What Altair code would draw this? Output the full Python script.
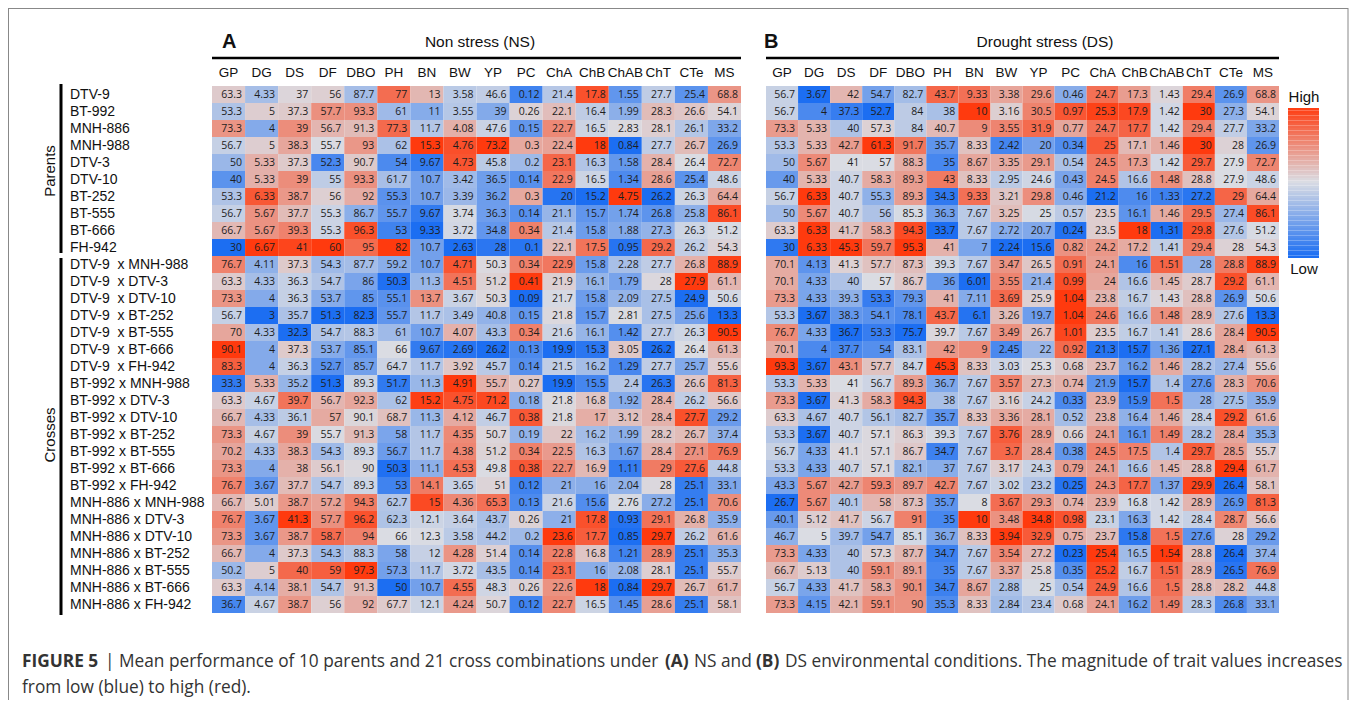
import altair as alt
import pandas as pd

TRAITS = ["GP", "DG", "DS", "DF", "DBO", "PH", "BN", "BW", "YP", "PC",
          "ChA", "ChB", "ChAB", "ChT", "CTe", "MS"]

PARENTS = ["DTV-9", "BT-992", "MNH-886", "MNH-988", "DTV-3", "DTV-10",
           "BT-252", "BT-555", "BT-666", "FH-942"]

CROSSES = ["DTV-9\u00a0 x MNH-988", "DTV-9\u00a0 x DTV-3", "DTV-9\u00a0 x DTV-10",
           "DTV-9\u00a0 x BT-252", "DTV-9\u00a0 x BT-555", "DTV-9\u00a0 x BT-666",
           "DTV-9\u00a0 x FH-942",
           "BT-992 x MNH-988", "BT-992 x DTV-3", "BT-992 x DTV-10", "BT-992 x BT-252",
           "BT-992 x BT-555", "BT-992 x BT-666", "BT-992 x FH-942",
           "MNH-886 x MNH-988", "MNH-886 x DTV-3", "MNH-886 x DTV-10",
           "MNH-886 x BT-252", "MNH-886 x BT-555", "MNH-886 x BT-666",
           "MNH-886 x FH-942"]

# Non stress (NS): one list per genotype, values in TRAITS order
NS_PARENTS = [
    [63.3, 4.33, 37, 56, 87.7, 77, 13, 3.58, 46.6, 0.12, 21.4, 17.8, 1.55, 27.7, 25.4, 68.8],
    [53.3, 5, 37.3, 57.7, 93.3, 61, 11, 3.55, 39, 0.26, 22.1, 16.4, 1.99, 28.3, 26.6, 54.1],
    [73.3, 4, 39, 56.7, 91.3, 77.3, 11.7, 4.08, 47.6, 0.15, 22.7, 16.5, 2.83, 28.1, 26.1, 33.2],
    [56.7, 5, 38.3, 55.7, 93, 62, 15.3, 4.76, 73.2, 0.3, 22.4, 18, 0.84, 27.7, 26.7, 26.9],
    [50, 5.33, 37.3, 52.3, 90.7, 54, 9.67, 4.73, 45.8, 0.2, 23.1, 16.3, 1.58, 28.4, 26.4, 72.7],
    [40, 5.33, 39, 55, 93.3, 61.7, 10.7, 3.42, 36.5, 0.14, 22.9, 16.5, 1.34, 28.6, 25.4, 48.6],
    [53.3, 6.33, 38.7, 56, 92, 55.3, 10.7, 3.39, 36.2, 0.3, 20, 15.2, 4.75, 26.2, 26.3, 64.4],
    [56.7, 5.67, 37.7, 55.3, 86.7, 55.7, 9.67, 3.74, 36.3, 0.14, 21.1, 15.7, 1.74, 26.8, 25.8, 86.1],
    [66.7, 5.67, 39.3, 55.3, 96.3, 53, 9.33, 3.72, 34.8, 0.34, 21.4, 15.8, 1.88, 27.3, 26.3, 51.2],
    [30, 6.67, 41, 60, 95, 82, 10.7, 2.63, 28, 0.1, 22.1, 17.5, 0.95, 29.2, 26.2, 54.3],
]
NS_CROSSES = [
    [76.7, 4.11, 37.3, 54.3, 87.7, 59.2, 10.7, 4.71, 50.3, 0.34, 22.9, 15.8, 2.28, 27.7, 26.8, 88.9],
    [63.3, 4.33, 36.3, 54.7, 86, 50.3, 11.3, 4.51, 51.2, 0.41, 21.9, 16.1, 1.79, 28, 27.9, 61.1],
    [73.3, 4, 36.3, 53.7, 85, 55.1, 13.7, 3.67, 50.3, 0.09, 21.7, 15.8, 2.09, 27.5, 24.9, 50.6],
    [56.7, 3, 35.7, 51.3, 82.3, 55.7, 11.7, 3.49, 40.8, 0.15, 21.8, 15.7, 2.81, 27.5, 25.6, 13.3],
    [70, 4.33, 32.3, 54.7, 88.3, 61, 10.7, 4.07, 43.3, 0.34, 21.6, 16.1, 1.42, 27.7, 26.3, 90.5],
    [90.1, 4, 37.3, 53.7, 85.1, 66, 9.67, 2.69, 26.2, 0.13, 19.9, 15.3, 3.05, 26.2, 26.4, 61.3],
    [83.3, 4, 36.3, 52.7, 85.7, 64.7, 11.7, 3.92, 45.7, 0.14, 21.5, 16.2, 1.29, 27.7, 25.7, 55.6],
    [33.3, 5.33, 35.2, 51.3, 89.3, 51.7, 11.3, 4.91, 55.7, 0.27, 19.9, 15.5, 2.4, 26.3, 26.6, 81.3],
    [63.3, 4.67, 39.7, 56.7, 92.3, 62, 15.2, 4.75, 71.2, 0.18, 21.8, 16.8, 1.92, 28.4, 26.2, 56.6],
    [66.7, 4.33, 36.1, 57, 90.1, 68.7, 11.3, 4.12, 46.7, 0.38, 21.8, 17, 3.12, 28.4, 27.7, 29.2],
    [73.3, 4.67, 39, 55.7, 91.3, 58, 11.7, 4.35, 50.7, 0.19, 22, 16.2, 1.99, 28.2, 26.7, 37.4],
    [70.2, 4.33, 38.3, 54.3, 89.3, 56.7, 11.7, 4.38, 51.2, 0.34, 22.5, 16.3, 1.67, 28.4, 27.1, 76.9],
    [73.3, 4, 38, 56.1, 90, 50.3, 11.1, 4.53, 49.8, 0.38, 22.7, 16.9, 1.11, 29, 27.6, 44.8],
    [76.7, 3.67, 37.7, 54.7, 89.3, 53, 14.1, 3.65, 51, 0.12, 21, 16, 2.04, 28, 25.1, 33.1],
    [66.7, 5.01, 38.7, 57.2, 94.3, 62.7, 15, 4.36, 65.3, 0.13, 21.6, 15.6, 2.76, 27.2, 25.1, 70.6],
    [76.7, 3.67, 41.3, 57.7, 96.2, 62.3, 12.1, 3.64, 43.7, 0.26, 21, 17.8, 0.93, 29.1, 26.8, 35.9],
    [73.3, 3.67, 38.7, 58.7, 94, 66, 12.3, 3.58, 44.2, 0.2, 23.6, 17.7, 0.85, 29.7, 26.2, 61.6],
    [66.7, 4, 37.3, 54.3, 88.3, 58, 12, 4.28, 51.4, 0.14, 22.8, 16.8, 1.21, 28.9, 25.1, 35.3],
    [50.2, 5, 40, 59, 97.3, 57.3, 11.7, 3.72, 43.5, 0.14, 23.1, 16, 2.08, 28.1, 25.1, 55.7],
    [63.3, 4.14, 38.1, 54.7, 91.3, 50, 10.7, 4.55, 48.3, 0.26, 22.6, 18, 0.84, 29.7, 26.7, 61.7],
    [36.7, 4.67, 38.7, 56, 92, 67.7, 12.1, 4.24, 50.7, 0.12, 22.7, 16.5, 1.45, 28.6, 25.1, 58.1],
]

# Drought stress (DS)
DS_PARENTS = [
    [56.7, 3.67, 42, 54.7, 82.7, 43.7, 9.33, 3.38, 29.6, 0.46, 24.7, 17.3, 1.43, 29.4, 26.9, 68.8],
    [56.7, 4, 37.3, 52.7, 84, 38, 10, 3.16, 30.5, 0.97, 25.3, 17.9, 1.42, 30, 27.3, 54.1],
    [73.3, 5.33, 40, 57.3, 84, 40.7, 9, 3.55, 31.9, 0.77, 24.7, 17.7, 1.42, 29.4, 27.7, 33.2],
    [53.3, 5.33, 42.7, 61.3, 91.7, 35.7, 8.33, 2.42, 20, 0.34, 25, 17.1, 1.46, 30, 28, 26.9],
    [50, 5.67, 41, 57, 88.3, 35, 8.67, 3.35, 29.1, 0.54, 24.5, 17.3, 1.42, 29.7, 27.9, 72.7],
    [40, 5.33, 40.7, 58.3, 89.3, 43, 8.33, 2.95, 24.6, 0.43, 24.5, 16.6, 1.48, 28.8, 27.9, 48.6],
    [56.7, 6.33, 40.7, 55.3, 89.3, 34.3, 9.33, 3.21, 29.8, 0.46, 21.2, 16, 1.33, 27.2, 29, 64.4],
    [50, 5.67, 40.7, 56, 85.3, 36.3, 7.67, 3.25, 25, 0.57, 23.5, 16.1, 1.46, 29.5, 27.4, 86.1],
    [63.3, 6.33, 41.7, 58.3, 94.3, 33.7, 7.67, 2.72, 20.7, 0.24, 23.5, 18, 1.31, 29.8, 27.6, 51.2],
    [30, 6.33, 45.3, 59.7, 95.3, 41, 7, 2.24, 15.6, 0.82, 24.2, 17.2, 1.41, 29.4, 28, 54.3],
]
DS_CROSSES = [
    [70.1, 4.13, 41.3, 57.7, 87.3, 39.3, 7.67, 3.47, 26.5, 0.91, 24.1, 16, 1.51, 28, 28.8, 88.9],
    [70.1, 4.33, 40, 57, 86.7, 36, 6.01, 3.55, 21.4, 0.99, 24, 16.6, 1.45, 28.7, 29.2, 61.1],
    [73.3, 4.33, 39.3, 53.3, 79.3, 41, 7.11, 3.69, 25.9, 1.04, 23.8, 16.7, 1.43, 28.8, 26.9, 50.6],
    [53.3, 3.67, 38.3, 54.1, 78.1, 43.7, 6.1, 3.26, 19.7, 1.04, 24.6, 16.6, 1.48, 28.9, 27.6, 13.3],
    [76.7, 4.33, 36.7, 53.3, 75.7, 39.7, 7.67, 3.49, 26.7, 1.01, 23.5, 16.7, 1.41, 28.6, 28.4, 90.5],
    [70.1, 4, 37.7, 54, 83.1, 42, 9, 2.45, 22, 0.92, 21.3, 15.7, 1.36, 27.1, 28.4, 61.3],
    [93.3, 3.67, 43.1, 57.7, 84.7, 45.3, 8.33, 3.03, 25.3, 0.68, 23.7, 16.2, 1.46, 28.2, 27.4, 55.6],
    [53.3, 5.33, 41, 56.7, 89.3, 36.7, 7.67, 3.57, 27.3, 0.74, 21.9, 15.7, 1.4, 27.6, 28.3, 70.6],
    [73.3, 3.67, 41.3, 58.3, 94.3, 38, 7.67, 3.16, 24.2, 0.33, 23.9, 15.9, 1.5, 28, 27.5, 35.9],
    [63.3, 4.67, 40.7, 56.1, 82.7, 35.7, 8.33, 3.36, 28.1, 0.52, 23.8, 16.4, 1.46, 28.4, 29.2, 61.6],
    [53.3, 3.67, 40.7, 57.1, 86.3, 39.3, 7.67, 3.76, 28.9, 0.66, 24.1, 16.1, 1.49, 28.2, 28.4, 35.3],
    [56.7, 4.33, 41.1, 57.1, 86.7, 34.7, 7.67, 3.7, 28.4, 0.38, 24.5, 17.5, 1.4, 29.7, 28.5, 55.7],
    [53.3, 4.33, 40.7, 57.1, 82.1, 37, 7.67, 3.17, 24.3, 0.79, 24.1, 16.6, 1.45, 28.8, 29.4, 61.7],
    [43.3, 5.67, 42.7, 59.3, 89.7, 42.7, 7.67, 3.02, 23.2, 0.25, 24.3, 17.7, 1.37, 29.9, 26.4, 58.1],
    [26.7, 5.67, 40.1, 58, 87.3, 35.7, 8, 3.67, 29.3, 0.74, 23.9, 16.8, 1.42, 28.9, 26.9, 81.3],
    [40.1, 5.12, 41.7, 56.7, 91, 35, 10, 3.48, 34.8, 0.98, 23.1, 16.3, 1.42, 28.4, 28.7, 56.6],
    [46.7, 5, 39.7, 54.7, 85.1, 36.7, 8.33, 3.94, 32.9, 0.75, 23.7, 15.8, 1.5, 27.6, 28, 29.2],
    [73.3, 4.33, 40, 57.3, 87.7, 34.7, 7.67, 3.54, 27.2, 0.23, 25.4, 16.5, 1.54, 28.8, 26.4, 37.4],
    [66.7, 5.13, 40, 59.1, 89.1, 35, 7.67, 3.37, 25.8, 0.35, 25.2, 16.7, 1.51, 28.9, 26.5, 76.9],
    [56.7, 4.33, 41.7, 58.3, 90.1, 34.7, 8.67, 2.88, 25, 0.54, 24.9, 16.6, 1.5, 28.8, 28.2, 44.8],
    [73.3, 4.15, 42.1, 59.1, 90, 35.3, 8.33, 2.84, 23.4, 0.68, 24.1, 16.2, 1.49, 28.3, 26.8, 33.1],
]

GENOS = PARENTS + CROSSES
LEGEND_STEPS = 60

# ---------------------------------------------------------------- tables
records = []
for panel, rows in (("NS", NS_PARENTS + NS_CROSSES), ("DS", DS_PARENTS + DS_CROSSES)):
    for g, row in zip(GENOS, rows):
        for t, v in zip(TRAITS, row):
            records.append({"panel": panel, "geno": g, "trait": t,
                            "value": v, "label": f"{v:g}"})
df = pd.DataFrame(records)
traits_df = pd.DataFrame({"trait": TRAITS})
genos_df = pd.DataFrame({"geno": GENOS})
legend_df = pd.DataFrame({"t": [i / LEGEND_STEPS for i in range(LEGEND_STEPS)],
                          "t2": [(i + 1) / LEGEND_STEPS for i in range(LEGEND_STEPS)]})
one = pd.DataFrame({"a": [0]})

# ---------------------------------------------------------------- styles
LOW, MID, HIGH = "#1C6EF2", "#DADCE3", "#FF3A0E"
CELL_FONT = "Open Sans"
HEAD_FONT = "Liberation Sans"
LABEL_FONT = "Liberation Sans"
CAP_FONT = "Open Sans"
CAP_SIZE = 17.3
CAP_COLOR = "#333"

color_scale = alt.Scale(domain=[0, 0.5, 1], range=[LOW, MID, HIGH], interpolate="rgb")
y_scale = alt.Scale(domain=GENOS, range=[78, 605], paddingInner=0, paddingOuter=0)
PANELS = {
    # panel: (x range of the cells, right-align offset of the values)
    "NS": ([204, 733], 13.5),
    "DS": ([758, 1271], 13.0),
}

layers = []

# ---------------------------------------------------------------- heatmaps
for panel, (xrange_, dx) in PANELS.items():
    xs = alt.Scale(domain=TRAITS, range=xrange_, paddingInner=0, paddingOuter=0)
    base = alt.Chart(df).transform_filter(alt.datum.panel == panel)
    cells = base.transform_joinaggregate(
        vmin="min(value)", vmax="max(value)", groupby=["trait"]
    ).transform_calculate(
        norm="(datum.value - datum.vmin) / (datum.vmax - datum.vmin)"
    ).mark_rect().encode(
        x=alt.X("trait:N", scale=xs, axis=None),
        y=alt.Y("geno:N", scale=y_scale, axis=None),
        color=alt.Color("norm:Q", scale=color_scale, legend=None),
    )
    texts = base.mark_text(align="right", baseline="middle", dx=dx, font=CELL_FONT,
                           fontSize=10.5, color="#1e1e1e").encode(
        x=alt.X("trait:N", scale=xs, axis=None),
        y=alt.Y("geno:N", scale=y_scale, axis=None),
        text="label:N",
    )
    heads = alt.Chart(traits_df).mark_text(baseline="middle", font=HEAD_FONT,
                                           fontSize=13.5, color="#111").encode(
        x=alt.X("trait:N", scale=xs, axis=None),
        y=alt.value(65),
        text="trait:N",
    )
    layers += [cells, texts, heads]

# ---------------------------------------------------------------- row labels
layers.append(alt.Chart(genos_df).mark_text(align="left", baseline="middle",
                                            font=LABEL_FONT, fontSize=14,
                                            color="#111").encode(
    x=alt.value(62),
    y=alt.Y("geno:N", scale=y_scale, axis=None),
    text="geno:N",
))

# ---------------------------------------------------------------- legend
layers.append(alt.Chart(legend_df).mark_rect().encode(
    x=alt.value(1280), x2=alt.value(1311),
    y=alt.Y("t:Q", scale=alt.Scale(domain=[0, 1], range=[250, 100]), axis=None),
    y2="t2:Q",
    color=alt.Color("t:Q", scale=color_scale, legend=None),
))


def label(text, x, y, size, font=LABEL_FONT, weight="normal", align="left",
          angle=0, color="#111"):
    return alt.Chart(one).mark_text(text=text, align=align, baseline="middle",
                                    font=font, fontSize=size, fontWeight=weight,
                                    angle=angle, color=color).encode(
        x=alt.value(x), y=alt.value(y))


def rule(x, y, x2, y2, width=1.0, color="#888"):
    return alt.Chart(one).mark_rule(color=color, strokeWidth=width).encode(
        x=alt.value(x), y=alt.value(y), x2=alt.value(x2), y2=alt.value(y2))


layers += [
    label("High", 1296, 89, 15, align="center"),
    label("Low", 1296, 261, 15, align="center"),
    # panel titles
    label("A", 214, 34, 20, weight="bold"),
    label("Non stress (NS)", 472, 34, 15.5, font=HEAD_FONT, align="center"),
    rule(204, 50, 733, 50, width=2.5, color="#000"),
    label("B", 756, 34, 20, weight="bold"),
    label("Drought stress (DS)", 1037, 34, 15.5, font=HEAD_FONT, align="center"),
    rule(758, 50, 1271, 50, width=2.5, color="#000"),
    # group brackets
    rule(53, 76, 53, 245, width=3, color="#000"),
    rule(53, 250, 53, 607, width=3, color="#000"),
    label("Parents", 42, 163, 15, align="center", angle=270),
    label("Crosses", 42, 427, 15, align="center", angle=270),
    # frame
    rule(0, 0.5, 1340, 0.5),
    rule(0.5, 0, 0.5, 692),
    rule(1340, 0, 1340, 692),
    # caption
    label("FIGURE 5", 14, 654, CAP_SIZE, font=CAP_FONT, weight="bold", color=CAP_COLOR),
    label("| Mean performance of 10 parents and 21 cross combinations under",
          97, 654, CAP_SIZE, font=CAP_FONT, color=CAP_COLOR),
    label("(A)", 657, 654, CAP_SIZE, font=CAP_FONT, weight="bold", color=CAP_COLOR),
    label("NS and", 686, 654, CAP_SIZE, font=CAP_FONT, color=CAP_COLOR),
    label("(B)", 748, 654, CAP_SIZE, font=CAP_FONT, weight="bold", color=CAP_COLOR),
    label("DS environmental conditions. The magnitude of trait values increases",
          777, 654, CAP_SIZE, font=CAP_FONT, color=CAP_COLOR),
    label("from low (blue) to high (red).", 14, 680, CAP_SIZE, font=CAP_FONT,
          color=CAP_COLOR),
]

chart = alt.layer(*layers).resolve_scale(
    x="independent", y="independent"
).properties(
    width=1341, height=692, padding=0, autosize=alt.AutoSizeParams(type="none"),
    background="white",
).configure_view(stroke=None)

chart.save("out.html", embed_options={"renderer": "svg", "actions": False})
